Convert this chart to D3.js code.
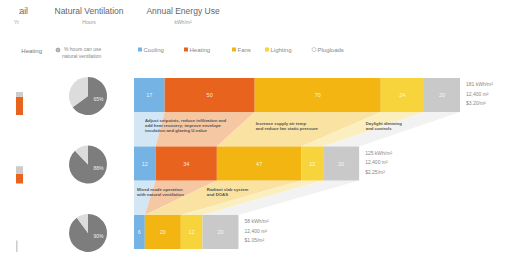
<!DOCTYPE html>
<html>
<head>
<meta charset="utf-8" />
<title>energy</title>
<script src="https://d3js.org/d3.v7.min.js"></script>
<style>
	body { margin: 0; background: #fff; }
	svg { font-family: "Liberation Sans", Arial, sans-serif; }
	.note { fill: #555; font-size: 4.3px; font-weight: bold; }
	.lab { fill: #888; font-size: 5px; }
</style>
</head>
<body>
<div id="chart"></div>
<script>

// categories and colours
const categories = ["Cooling", "Heating", "Fans", "Lighting", "Plugloads"];
const colors = ["#74b3e3", "#e8631d", "#f2b512", "#f7d43b", "#c9c9c9"];
const lightColors = ["#d3e6f5", "#f6c7a3", "#fae3a2", "#fcefbf", "#f2f2f2"];

// annual energy use per scheme, kWh/m2
const cooling   = [17, 12, 6];
const heating   = [50, 34, 0];
const fans      = [70, 47, 20];
const lighting  = [24, 12, 12];
const plugloads = [20, 20, 20];

// % of hours natural ventilation can be used
const natVent = [65, 88, 90];

// small heating-hours bars at left edge
const heatHours  = [19, 10, 0];
const otherHours = [5, 8, 12];

// text next to each bar
const totalsText = [
	["181 kWh/m²", "12,400 m²", "$3.20/m²"],
	["125 kWh/m²", "12,400 m²", "$2.25/m²"],
	["58 kWh/m²", "12,400 m²", "$1.05/m²"]
];

// measure notes between bars
const notes1 = [
	["Adjust setpoints, reduce infiltration and", "add heat recovery; improve envelope", "insulation and glazing U-value"],
	["Increase supply air temp", "and reduce fan static pressure"],
	["Daylight dimming", "and controls"]
];
const notes2 = [
	["Mixed mode operation", "with natural ventilation"],
	["Radiant slab system", "and DOAS"]
];

const width = 517, height = 255;
const svg = d3.select("#chart").append("svg")
	.attr("width", width)
	.attr("height", height);

// the left column is cut off in the source crop
svg.append("clipPath").attr("id", "leftcut")
	.append("rect").attr("x", 14).attr("y", 0).attr("width", width).attr("height", height);
svg.append("clipPath").attr("id", "titlecut")
	.append("rect").attr("x", 19).attr("y", 0).attr("width", width).attr("height", height);
const leftCol = svg.append("g").attr("clip-path", "url(#leftcut)");

const series = [cooling, heating, fans, lighting, plugloads];
const rows = [0, 1, 2].map(r => {
	let acc = 0;
	return series.map((s, i) => {
		const seg = {cat: i, v: s[r], x0: acc, x1: acc + s[r]};
		acc += s[r];
		return seg;
	});
});

const x = d3.scaleLinear().domain([0, 181]).range([134, 460]);
const y = d3.scaleLinear().domain([0, 2]).range([78, 215]);
const barH = 34;

// headers
svg.append("text").attr("clip-path", "url(#titlecut)")
	.attr("x", 28).attr("y", 14).attr("text-anchor", "end")
	.attr("font-size", 8.5).attr("fill", "#666").text("Detail");
leftCol.append("text").attr("x", 19).attr("y", 24).attr("text-anchor", "end")
	.attr("font-size", 5).attr("fill", "#999").text("Yr");
svg.append("text").attr("x", 89).attr("y", 14).attr("text-anchor", "middle")
	.attr("font-size", 8.5).attr("fill", "#666").text("Natural Ventilation");
svg.append("text").attr("x", 89).attr("y", 24).attr("text-anchor", "middle")
	.attr("font-size", 5).attr("fill", "#999").text("Hours");
svg.append("text").attr("x", 183).attr("y", 14).attr("text-anchor", "middle")
	.attr("font-size", 8.5).attr("fill", "#666").text("Annual Energy Use");
svg.append("text").attr("x", 183).attr("y", 24).attr("text-anchor", "middle")
	.attr("font-size", 5).attr("fill", "#999").text("kWh/m²");

// legend row
leftCol.append("text").attr("x", 42).attr("y", 53).attr("text-anchor", "end")
	.attr("font-size", 6).attr("fill", "#777").text("Heating");
svg.append("circle").attr("cx", 58).attr("cy", 50).attr("r", 2)
	.attr("fill", "#bbb").attr("stroke", "#777").attr("stroke-width", 0.5);
svg.append("text").attr("x", 64).attr("y", 51).attr("font-size", 5).attr("fill", "#888")
	.text("% hours can use");
svg.append("text").attr("x", 62).attr("y", 58).attr("font-size", 5).attr("fill", "#888")
	.text("natural ventilation");

const legendX = [138, 184, 232, 265, 312];
categories.forEach((c, i) => {
	if (i < 4) {
		svg.append("rect").attr("x", legendX[i]).attr("y", 47.5).attr("width", 4).attr("height", 4)
			.attr("fill", colors[i]);
	} else {
		svg.append("circle").attr("cx", legendX[i] + 2).attr("cy", 49.5).attr("r", 2)
			.attr("fill", "#fff").attr("stroke", "#aaa").attr("stroke-width", 0.6);
	}
	svg.append("text").attr("x", legendX[i] + 5.5).attr("y", 52)
		.attr("font-size", 6).attr("fill", "#888").text(c);
});

// connectors between consecutive bars
for (let r = 0; r < 2; r++) {
	const top = y(r) + barH, bot = y(r + 1);
	rows[r].forEach((seg, i) => {
		const nxt = rows[r + 1][i];
		svg.append("path")
			.attr("d", d3.line()([
				[x(seg.x0), top], [x(seg.x1), top],
				[x(nxt.x1), bot], [x(nxt.x0), bot]
			]) + "Z")
			.attr("fill", lightColors[i]);
	});
}

// bars
rows.forEach((row, r) => {
	const g = svg.append("g");
	g.selectAll("rect").data(row.filter(d => d.v > 0)).enter().append("rect")
		.attr("x", d => x(d.x0))
		.attr("y", y(r))
		.attr("width", d => x(d.x1) - x(d.x0))
		.attr("height", barH)
		.attr("fill", d => colors[d.cat]);
	g.selectAll("text").data(row.filter(d => d.v > 0)).enter().append("text")
		.attr("x", d => (x(d.x0) + x(d.x1)) / 2)
		.attr("y", y(r) + barH / 2 + 2)
		.attr("text-anchor", "middle")
		.attr("font-size", 5.5)
		.attr("fill", "#fff")
		.attr("opacity", 0.85)
		.text(d => d.v);

	const end = x(row[4].x1) + 6;
	totalsText[r].forEach((t, k) => {
		svg.append("text").attr("class", "lab")
			.attr("x", end).attr("y", y(r) + 8 + k * 9.5).text(t);
	});
});

// notes
function addNote(lines, nx, ny) {
	lines.forEach((t, k) => {
		svg.append("text").attr("class", "note")
			.attr("x", nx).attr("y", ny + k * 5).text(t);
	});
}
addNote(notes1[0], x(rows[0][0].x0) + 11, y(0) + barH + 10);
addNote(notes1[1], x(rows[0][2].x0) + 1, y(0) + barH + 13);
addNote(notes1[2], x(rows[0][3].x0) - 15, y(0) + barH + 13);
addNote(notes2[0], x(rows[1][0].x0) + 3, y(1) + barH + 10);
addNote(notes2[1], x(rows[1][2].x0) - 10, y(1) + barH + 10);

// pies
const pie = d3.pie().sort(null);
const arc = d3.arc().innerRadius(0).outerRadius(19);
const labelArc = d3.arc().innerRadius(11).outerRadius(11);
natVent.forEach((p, r) => {
	const g = svg.append("g").attr("transform", `translate(88,${y(r) + 18})`);
	const arcs = pie([p, 100 - p]);
	g.selectAll("path").data(arcs).enter().append("path")
		.attr("d", arc)
		.attr("fill", (d, i) => i === 0 ? "#7d7d7d" : "#dcdcdc");
	const c = labelArc.centroid({startAngle: Math.PI * 0.5, endAngle: Math.PI * 0.7});
	g.append("text").attr("x", c[0]).attr("y", c[1] + 2)
		.attr("text-anchor", "middle").attr("font-size", 5).attr("fill", "#eee")
		.text(p + "%");
});

// left small stacked bars
const hScale = d3.scaleLinear().domain([0, 25]).range([0, 24]);
heatHours.forEach((h, r) => {
	const base = y(r) + barH + 3;
	leftCol.append("rect").attr("x", 16).attr("y", base - hScale(h)).attr("width", 7)
		.attr("height", hScale(h)).attr("fill", colors[1]);
	leftCol.append("rect").attr("x", 16).attr("y", base - hScale(h) - hScale(otherHours[r]))
		.attr("width", h > 0 ? 7 : 1.5).attr("height", hScale(otherHours[r]))
		.attr("fill", "#ccc");
});

</script>
</body>
</html>
